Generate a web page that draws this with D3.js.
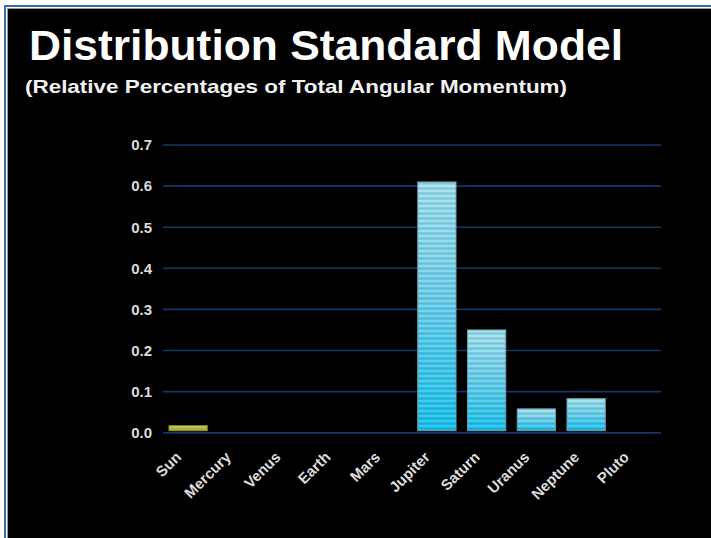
<!DOCTYPE html>
<html>
<head>
<meta charset="utf-8">
<script src="https://cdn.jsdelivr.net/npm/d3@7"></script>
<style>
  html, body { margin: 0; padding: 0; background: #ffffff; }
  svg { display: block; }
</style>
</head>
<body>
<svg id="chart" width="711" height="538"></svg>
<script>
// ---- data ----
const titleText = "Distribution Standard Model";
const subtitleText = "(Relative Percentages of Total Angular Momentum)";
const categories = ["Sun", "Mercury", "Venus", "Earth", "Mars", "Jupiter", "Saturn", "Uranus", "Neptune", "Pluto"];
const values = [0.017, 0, 0, 0, 0, 0.61, 0.25, 0.058, 0.083, 0];
const yTicks = [0, 0.1, 0.2, 0.3, 0.4, 0.5, 0.6, 0.7];

const W = 711, H = 538;
const svg = d3.select("#chart");

// frame
svg.append("rect").attr("x", 0).attr("y", 0).attr("width", W).attr("height", H).attr("fill", "#ffffff");
svg.append("rect").attr("x", 5).attr("y", 6).attr("width", W).attr("height", H)
  .attr("fill", "none").attr("stroke", "#3b6ba5").attr("stroke-width", 2);
svg.append("rect").attr("x", 7).attr("y", 8).attr("width", W).attr("height", H).attr("fill", "#9a9a9a");
svg.append("rect").attr("x", 8).attr("y", 9).attr("width", W).attr("height", H).attr("fill", "#000000");

// defs
const defs = svg.append("defs");
const gBlue = defs.append("linearGradient").attr("id", "gBlue")
  .attr("x1", 0).attr("y1", 0).attr("x2", 0).attr("y2", 1);
gBlue.append("stop").attr("offset", "0%").attr("stop-color", "#a2e2f0");
gBlue.append("stop").attr("offset", "45%").attr("stop-color", "#70d2ee");
gBlue.append("stop").attr("offset", "100%").attr("stop-color", "#18c4f0");
const gSun = defs.append("linearGradient").attr("id", "gSun")
  .attr("x1", 0).attr("y1", 0).attr("x2", 0).attr("y2", 1);
gSun.append("stop").attr("offset", "0%").attr("stop-color", "#d6d660");
gSun.append("stop").attr("offset", "100%").attr("stop-color", "#b8b83c");
const pat = defs.append("pattern").attr("id", "stripes")
  .attr("patternUnits", "userSpaceOnUse").attr("width", 10).attr("height", 5);
pat.append("rect").attr("x", 0).attr("y", 0).attr("width", 10).attr("height", 2)
  .attr("fill", "#ffffff").attr("fill-opacity", 0.10);
pat.append("rect").attr("x", 0).attr("y", 2.5).attr("width", 10).attr("height", 2)
  .attr("fill", "#003040").attr("fill-opacity", 0.16);

// title
svg.append("text").attr("x", 29).attr("y", 60)
  .attr("font-family", "Liberation Sans, Arial, sans-serif")
  .attr("font-weight", "bold").attr("font-size", 42)
  .attr("fill", "#ffffff")
  .attr("textLength", 594).attr("lengthAdjust", "spacingAndGlyphs")
  .text(titleText);
svg.append("text").attr("x", 25).attr("y", 93)
  .attr("font-family", "Liberation Sans, Arial, sans-serif")
  .attr("font-weight", "bold").attr("font-size", 19)
  .attr("fill", "#f2f2f2")
  .attr("textLength", 542).attr("lengthAdjust", "spacingAndGlyphs")
  .text(subtitleText);

// scales
const x = d3.scaleBand().domain(categories).range([163, 661]).paddingInner(0.23).paddingOuter(0.12);
const y = d3.scaleLinear().domain([0, 0.7]).range([432.7, 145]);

// gridlines
svg.append("g").selectAll("line").data(yTicks).join("line")
  .attr("x1", 163).attr("x2", 661)
  .attr("y1", d => y(d)).attr("y2", d => y(d))
  .attr("stroke", "#12386a").attr("stroke-width", 1.6);

// y axis labels
const yAxis = d3.axisLeft(y).tickValues(yTicks).tickFormat(d3.format(".1f")).tickSize(0).tickPadding(11);
const ya = svg.append("g").attr("transform", "translate(163,0)").call(yAxis);
ya.select(".domain").remove();
ya.selectAll("text")
  .attr("font-family", "Liberation Sans, Arial, sans-serif")
  .attr("font-weight", "bold").attr("font-size", 15)
  .attr("fill", "#dcdcdc");

// bars
const bars = svg.append("g");
const barData = categories.map((c, i) => ({ c, v: values[i] })).filter(d => d.v > 0);
bars.selectAll("rect.base").data(barData).join("rect")
  .attr("class", "base")
  .attr("x", d => x(d.c)).attr("width", x.bandwidth())
  .attr("y", d => y(d.v)).attr("height", d => Math.max(0, y(0) - 2 - y(d.v)))
  .attr("fill", d => d.c === "Sun" ? "url(#gSun)" : "url(#gBlue)")
  .attr("stroke", d => d.c === "Sun" ? "#8a8a30" : "#6f9aa6").attr("stroke-width", 1);
bars.selectAll("rect.stripe").data(barData).join("rect")
  .attr("class", "stripe")
  .attr("x", d => x(d.c) + 0.5).attr("width", x.bandwidth() - 1)
  .attr("y", d => y(d.v) + 0.5).attr("height", d => Math.max(0, y(0) - 3 - y(d.v)))
  .attr("fill", "url(#stripes)");

// x axis line
svg.append("line").attr("x1", 163).attr("x2", 661).attr("y1", y(0)).attr("y2", y(0))
  .attr("stroke", "#12386a").attr("stroke-width", 1.6);

// x labels
svg.append("g").selectAll("text").data(categories).join("text")
  .attr("transform", d => `translate(${x(d) + x.bandwidth() / 2 - 6},458) rotate(-45)`)
  .attr("text-anchor", "end")
  .attr("font-family", "Liberation Sans, Arial, sans-serif")
  .attr("font-weight", "bold").attr("font-size", 15)
  .attr("fill", "#dcdcdc")
  .text(d => d);
</script>
</body>
</html>
